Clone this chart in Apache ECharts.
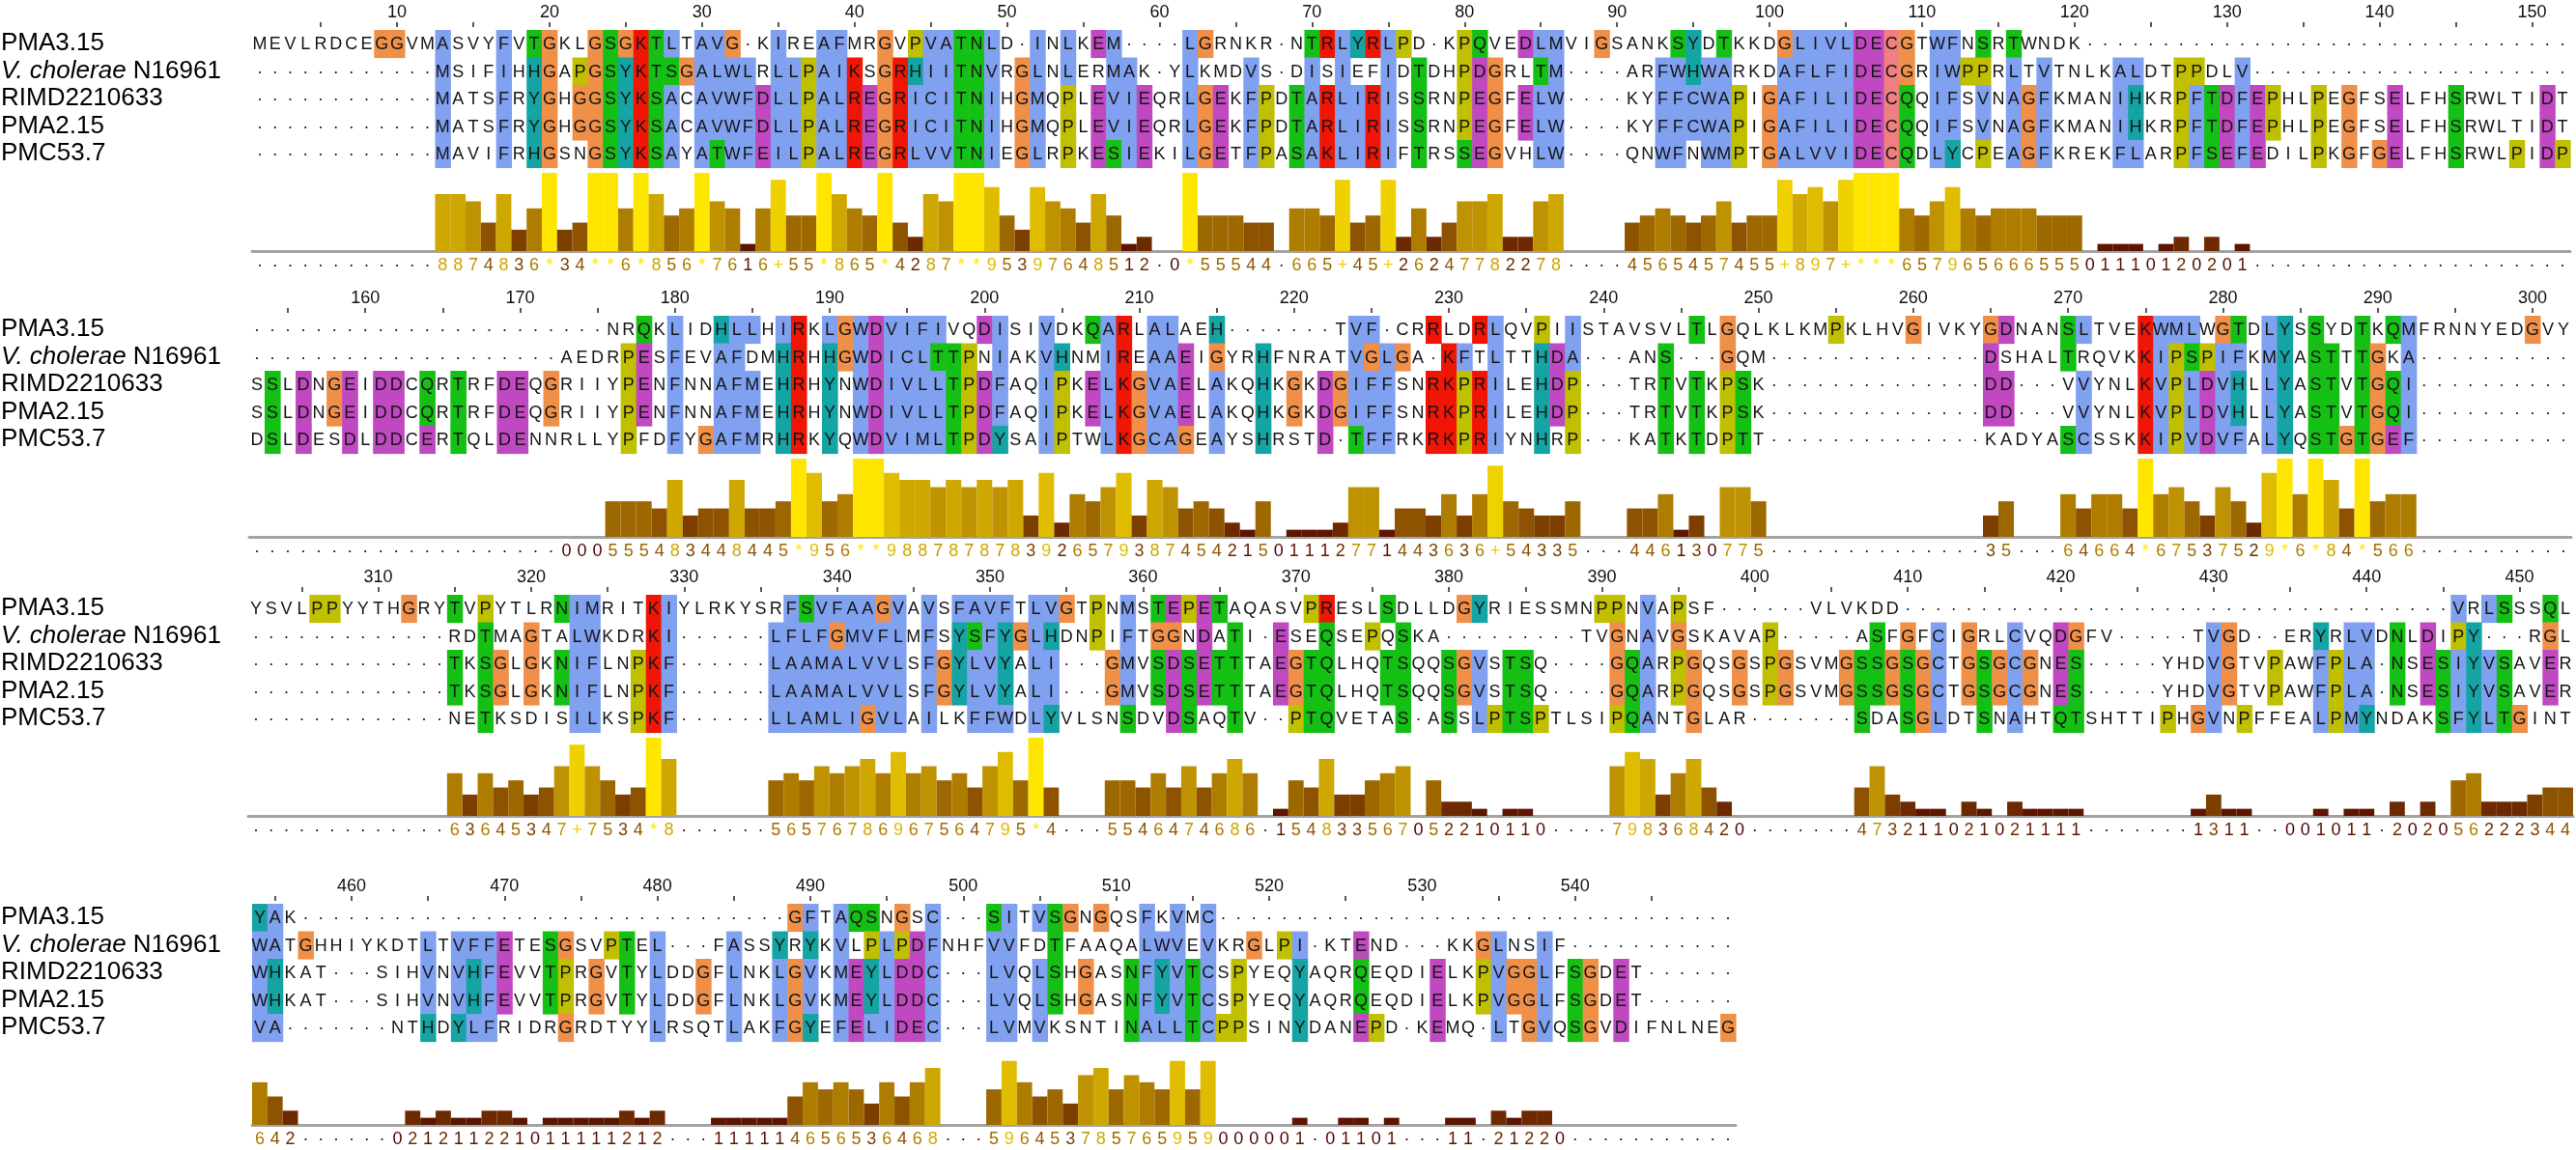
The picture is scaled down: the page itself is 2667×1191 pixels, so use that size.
<!DOCTYPE html>
<html style="height: 100%">
<head>
<meta charset="utf-8">
<title>Alignment with conservation</title>
<script src="https://cdn.jsdelivr.net/npm/echarts/dist/echarts.min.js"></script>
</head>
<body style="height: 100%; margin: 0; background: #ffffff">
<div id="container" style="width: 2667px; height: 1191px"></div>
<script type="text/javascript">
// ---- data ----
const seqNames = ['PMA3.15', 'V. cholerae N16961', 'RIMD2210633', 'PMA2.15', 'PMC53.7'];
const blockStarts = [1, 153, 302, 454];
const blockLengths = [152, 150, 152, 97];
const dots = n => '.'.repeat(n);

const block1Rows = [
    'MEVLRDCEGGVMASVYFVTGKLGSGKTLTAVG-KIREAFMRGVPVATNLD-INLKEM----LGRNKR-NTRLYRLPD-KPQVEDLMVIGSANKSYDTKKDGLIVLDECGTWFNSRTWNDK' + dots(32),
    dots(12) + 'MSIFIHHGAPGSYKTSGALWLRLLPAIKSGRHIITNVRGLNLERMAK-YLKMDVS-DISIEFIDTDHPDGRLTM----ARFWHWARKDAFLFIDECGRIWPPRLTVTNLKALDTPPDLV' + dots(21),
    dots(12) + 'MATSFRYGHGGSYKSACAVWFDLLPALREGRICITNIHGMQPLEVIEQRLGEKFPDTARLIRISSRNPEGFELW----KYFFCWAPIGAFILIDECQQIFSVNAGFKMANIHKRPFTDFEPHLPEGFSELFHSRWLTIDT',
    dots(12) + 'MATSFRYGHGGSYKSACAVWFDLLPALREGRICITNIHGMQPLEVIEQRLGEKFPDTARLIRISSRNPEGFELW----KYFFCWAPIGAFILIDECQQIFSVNAGFKMANIHKRPFTDFEPHLPEGFSELFHSRWLTIDT',
    dots(12) + 'MAVIFRHGSNGSYKSAYATWFEILPALREGRLVVTNIEGLRPKESIEKILGETFPASAKLIRIFTRSSEGVHLW----QNWFNWMPTGALVVIDECQDLYCPEAGFKREKFLARPFSEFEDILPKGFGELFHSRWLPIDP'
];
const block2Rows = [
    dots(23) + 'NRQKLIDHLLHIRKLGWDVIFIVQDISIVDKQARLALAEH' + dots(7) + 'TVF-CRRLDRLQVPIISTAVSVLTLGQLKLKMPKLHVGIVKYGDNANSLTVEKWMLWGTDLYSSYDTKQMFRNNYEDGVY',
    dots(20) + 'AEDRPESFEVAFDMHRHHGWDICLTTPNIAKVHNMIREAAEIGYRHFNRATVGLGA-KFTLTTHDA---ANS---GQM' + dots(14) + 'DSHALTRQVKKIPSPIFKMYASTTTGKA' + dots(10),
    'SSLDNGEIDDCQRTRFDEQGRIIYPENFNNAFMEHRHYNWDIVLLTPDFAQIPKELKGVAELAKQHKGKDGIFFSNRKPRILEHDP---TRTVTKPSK' + dots(14) + 'DD---VVYNLKVPLDVHLLYASTVTGQI' + dots(10),
    'SSLDNGEIDDCQRTRFDEQGRIIYPENFNNAFMEHRHYNWDIVLLTPDFAQIPKELKGVAELAKQHKGKDGIFFSNRKPRILEHDP---TRTVTKPSK' + dots(14) + 'DD---VVYNLKVPLDVHLLYASTVTGQI' + dots(10),
    'DSLDESDLDDCERTQLDENNRLLYPFDFYGAFMRHRKYQWDVIMLTPDYSAIPTWLKGCAGEAYSHRSTD-TFFRKRKPRIYNHRP---KATKTDPTT' + dots(14) + 'KADYASCSSKKIPVDVFALYQSTGTGEF' + dots(10)
];
const block3Rows = [
    'YSVLPPYYTHGRYTVPYTLRNIMRITKIYLRKYSRFSVFAAGVAVSFAVFTLVGTPNMSTEPETAQASVPRESLSDLLDGYRIESSMNPPNVAPSF' + dots(6) + 'VLVKDD' + dots(36) + 'VRLSSSQL',
    dots(13) + 'RDTMAGTALWKDRKI' + dots(6) + 'LFLFGMVFLMFSYSFYGLHDNPIFTGGNDATI-ESEQSEPQSKA' + dots(9) + 'TVGNAVGSKAVAP' + dots(5) + 'ASFGFCIGRLCVQDGFV' + dots(5) + 'TVGD--ERYRLVDNLDIPY---RGL',
    dots(13) + 'TKSGLGKNIFLNPKF' + dots(6) + 'LAAMALVVLSFGYLVYALI---GMVSDSETTTAEGTQLHQTSQQSGVSTSQ----GQARPGQSGSPGSVMGSSGSGCTGSGCGNES' + dots(5) + 'YHDVGTVPAWFPLA-NSESIYVSAVER',
    dots(13) + 'TKSGLGKNIFLNPKF' + dots(6) + 'LAAMALVVLSFGYLVYALI---GMVSDSETTTAEGTQLHQTSQQSGVSTSQ----GQARPGQSGSPGSVMGSSGSGCTGSGCGNES' + dots(5) + 'YHDVGTVPAWFPLA-NSESIYVSAVER',
    dots(13) + 'NETKSDISILKSPKF' + dots(6) + 'LLAMLIGVLAILKFFWDLYVLSNSDVDSAQTV--PTQVETAS-ASSLPTSPTLSIPQANTGLAR' + dots(7) + 'SDASGLDTSNAHTQTSHTTIPHGVNPFFEALPMYNDAKSFYLTGINT'
];
const block4Rows = [
    'YAK' + dots(32) + 'GFTAQSNGSC---SITVSGNGQSFKVMC' + dots(34),
    'WATGHHIYKDTLTVFFETESGSVPTEL---FASSYRYKVLPLPDFNHFVVFDTFAAQALWVEVKRGLPI-KTEND---KKGLNSIF' + dots(11),
    'WHKAT---SIHVNVHFEVVTPRGVTYLDDGFLNKLGVKMEYLDDC---LVQLSHGASNFYVTCSPYEQYAQRQEQDIELKPVGGLFSGDET' + dots(6),
    'WHKAT---SIHVNVHFEVVTPRGVTYLDDGFLNKLGVKMEYLDDC---LVQLSHGASNFYVTCSPYEQYAQRQEQDIELKPVGGLFSGDET' + dots(6),
    'VA-------NTHDYLFRIDRGRDTYYLRSQTLAKFGYEFELIDEC---LVMVKSNTINALLTCPPSINYDANEPD-KEMQ-LTGVQSGVDIFNLNEG'
];
const blocks = [block1Rows, block2Rows, block3Rows, block4Rows];

// ---- layout ----
const blockTop = [13, 309, 598, 918];
const blockLeft = [261, 258, 257, 261];
const blockWidth = [2400, 2404, 2407, 1536];
const ROW_H = 28.5;
const BAR_H = 81;
const FONT = '"Liberation Sans", Arial, sans-serif';

// ---- Clustal X colouring (Jalview rules) ----
const CLX = {
    blue: '#80a0f0', red: '#f01505', green: '#15c015', pink: '#f08080',
    magenta: '#c048c0', orange: '#f09048', cyan: '#15a4a4', yellow: '#c0c000'
};
const HYDRO = 'WLVIMAFCYHP';

function isGap(c) { return c === '-' || c === '.'; }

function clustalColour(column, res) {
    const n = column.length;
    const pc = set => column.filter(c => set.indexOf(c) >= 0).length * 100 / n;
    const hyd = pc(HYDRO) > 60;
    switch (res) {
        case 'G': return CLX.orange;
        case 'P': return CLX.yellow;
        case 'A': case 'I': case 'L': case 'M': case 'F': case 'W': case 'V':
            return hyd ? CLX.blue : null;
        case 'C':
            if (pc('C') > 85) return CLX.pink;
            return hyd ? CLX.blue : null;
        case 'K': case 'R':
            return (pc('KR') > 60 || pc('KRQ') > 85) ? CLX.red : null;
        case 'E':
            return (pc('KR') > 60 || pc('QE') > 50 || pc('ED') > 50 || pc('EQD') > 85) ? CLX.magenta : null;
        case 'D':
            return (pc('KR') > 60 || pc('KRQ') > 85 || pc('ED') > 50) ? CLX.magenta : null;
        case 'N':
            return (pc('N') > 50 || pc('NY') > 85) ? CLX.green : null;
        case 'Q':
            return (pc('KR') > 60 || pc('QE') > 50 || pc('QTKR') > 85) ? CLX.green : null;
        case 'S': case 'T':
            return (hyd || pc('TS') > 50 || pc('ST') > 85) ? CLX.green : null;
        case 'H': case 'Y':
            return (hyd || pc('WYACPQFHILMV') > 85) ? CLX.cyan : null;
    }
    return null;
}

// ---- AMAS conservation (Jalview property table) ----
const properties = {
    hydrophobic: 'ILVCAGMFYWHKTX',
    polar: 'YWHKREQDNSTX',
    small: 'VCAGDNSTP',
    charged: 'HKRED',
    negative: 'ED',
    positive: 'HKR',
    aromatic: 'FYWH',
    aliphatic: 'ILV',
    tiny: 'GAS',
    proline: 'P'
};

function conservation(column) {
    const gaps = column.filter(isGap).length;
    if (gaps * 100 / column.length >= 25) return { sym: '\u00b7', value: 0 };
    const symbols = Array.from(new Set(column.map(c => isGap(c) ? '-' : c)));
    let count = 0;
    Object.keys(properties).forEach(function (key) {
        const vals = symbols.map(s => s === '-' ? 1 : (properties[key].indexOf(s) >= 0 ? 1 : 0));
        if (vals.every(v => v === vals[0])) count++;
    });
    if (count === 10) return symbols.length === 1 ? { sym: '*', value: 11 } : { sym: '+', value: 10 };
    return { sym: String(count), value: count };
}

function consColour(v) {
    const p = v / 11;
    const r = Math.round(255 * (0.3 + 0.7 * p));
    const g = Math.round(255 * 0.9 * p);
    return 'rgb(' + r + ',' + g + ',0)';
}

// ---- build option ----
const grid = [], xAxis = [], yAxis = [], series = [];

blocks.forEach(function (rawRows, b) {
    const len = blockLengths[b];
    const last = blockStarts[b] + len - 1;
    const rows = rawRows.map(r => r.padEnd(len, '.').slice(0, len));
    const colNames = [];
    for (let k = 0; k < len; k++) colNames.push(String(blockStarts[b] + k));

    const cells = [];
    const consSyms = [];
    const consVals = [];
    for (let k = 0; k < len; k++) {
        const column = rows.map(r => r[k]);
        const cons = conservation(column);
        consSyms.push(cons.sym);
        consVals.push(cons.value);
        rows.forEach(function (r, i) {
            const ch = r[k];
            cells.push({
                x: k, y: i,
                ch: isGap(ch) ? '\u00b7' : ch,
                colour: isGap(ch) ? null : clustalColour(column, ch)
            });
        });
    }

    const L = blockTop[b];
    grid.push({ left: blockLeft[b], top: L + 18, width: blockWidth[b], height: ROW_H * 5, outerBoundsMode: 'none' });
    grid.push({ left: blockLeft[b], top: L + 247 - BAR_H, width: blockWidth[b], height: BAR_H, outerBoundsMode: 'none' });

    xAxis.push({
        type: 'category', gridIndex: 2 * b, position: 'top', data: colNames, offset: 3,
        axisLine: { show: false },
        axisTick: {
            show: true, alignWithLabel: true, length: 5,
            interval: (i, v) => Number(v) % 5 === 0 && Number(v) <= last - 2,
            lineStyle: { color: '#222', width: 1.5 }
        },
        axisLabel: {
            interval: (i, v) => Number(v) % 10 === 0 && Number(v) <= last - 2,
            margin: 6, fontSize: 18, color: '#111', fontFamily: FONT
        },
        splitLine: { show: false }
    });
    xAxis.push({
        type: 'category', gridIndex: 2 * b + 1, position: 'bottom', data: colNames,
        axisLine: { show: true, lineStyle: { color: '#a3a3a3', width: 3 } },
        axisTick: { show: false },
        axisLabel: {
            interval: 0, margin: 6, fontSize: 18, fontFamily: FONT,
            formatter: (v, i) => consSyms[i],
            color: (v, i) => consColour(consVals[i])
        },
        splitLine: { show: false }
    });

    yAxis.push({
        type: 'category', gridIndex: 2 * b, data: seqNames, inverse: true,
        axisLine: { show: false }, axisTick: { show: false }, splitLine: { show: false },
        axisLabel: {
            interval: 0,
            margin: blockLeft[b] - 1, align: 'left', fontSize: 26, color: '#000', fontFamily: FONT,
            formatter: function (v) {
                if (v.indexOf('V. cholerae') === 0) return '{it|V. cholerae}' + v.slice(11);
                return v;
            },
            rich: { it: { fontStyle: 'italic', fontSize: 26, color: '#000', fontFamily: FONT } }
        }
    });
    yAxis.push({ type: 'value', gridIndex: 2 * b + 1, min: 0, max: 11, show: false });

    series.push({
        type: 'custom', xAxisIndex: 2 * b, yAxisIndex: 2 * b, silent: true,
        data: cells.map(c => [c.x, c.y]),
        renderItem: function (params, api) {
            const cell = cells[params.dataIndex];
            const p = api.coord([api.value(0), api.value(1)]);
            const s = api.size([1, 1]);
            const children = [];
            if (cell.colour) {
                children.push({
                    type: 'rect',
                    shape: { x: p[0] - s[0] / 2, y: p[1] - s[1] / 2, width: s[0] + 0.6, height: s[1] + 0.6 },
                    style: { fill: cell.colour }
                });
            }
            children.push({
                type: 'text', x: p[0], y: p[1] + 1,
                style: {
                    text: cell.ch, align: 'center', verticalAlign: 'middle',
                    fontSize: 18, fontFamily: FONT, fill: '#151515'
                }
            });
            return { type: 'group', children: children };
        }
    });
    series.push({
        type: 'bar', xAxisIndex: 2 * b + 1, yAxisIndex: 2 * b + 1, silent: true,
        barCategoryGap: '0%',
        data: consVals.map(v => ({ value: v, itemStyle: { color: consColour(v) } }))
    });
});

const chart = echarts.init(document.getElementById('container'));
chart.setOption({
    animation: false,
    backgroundColor: '#ffffff',
    grid: grid,
    xAxis: xAxis,
    yAxis: yAxis,
    series: series
});
</script>
</body>
</html>
